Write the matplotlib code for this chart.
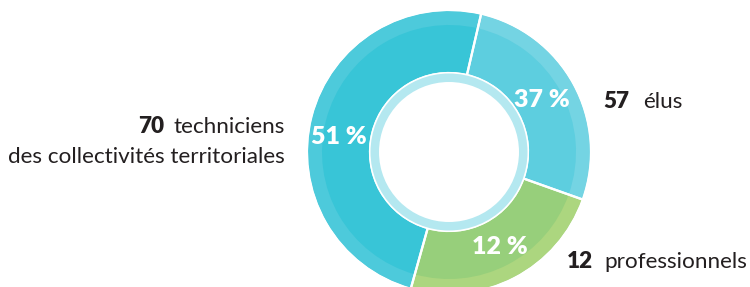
import matplotlib.pyplot as plt
from matplotlib.patches import Circle

# wedge order: élus, professionnels, techniciens (clockwise from top)
counts = [57, 12, 70]
names = ['élus', 'professionnels', 'techniciens', 'des collectivités territoriales']
pct_labels = ['37 %', '12 %', '51 %']
# share of the ring each wedge covers, as drawn in the picture
arc_shares = [26.8, 23.9, 49.3]

main_colors = ['#5dcedf', '#97cf7b', '#38c5d7']
band_colors = ['#74d4e3', '#acd67f', '#4dcadb']
ink = '#231f20'

fig = plt.figure(figsize=(7.5, 2.87), dpi=100)
ax = fig.add_axes([0, 0, 1, 1])

cx, cy = 449, 135
R = 141
start = 90 - 13.1

ax.pie(arc_shares, radius=R, center=(cx, cy), startangle=start, counterclock=False,
       colors=main_colors, wedgeprops=dict(width=61, edgecolor='none'))
ax.pie(arc_shares, radius=R, center=(cx, cy), startangle=start, counterclock=False,
       colors=band_colors, wedgeprops=dict(width=14, edgecolor='none'))
ax.pie(arc_shares, radius=R + 1, center=(cx, cy), startangle=start, counterclock=False,
       colors=['none'] * 3, wedgeprops=dict(width=63, edgecolor='white', linewidth=1.6, fill=False))

ax.add_patch(Circle((cx, cy), 78.5, facecolor='#b4e8f0', edgecolor='none'))
ax.add_patch(Circle((cx, cy), 70, facecolor='white', edgecolor='none'))

font = 'Lato'
pct_pos = [(542, 100), (500, 247), (339, 137)]
for (x, y), t in zip(pct_pos, pct_labels):
    ax.text(x, 287 - y, t, color='white', fontsize=18, fontweight='heavy', family=font,
            ha='center', va='center')

fs = 16.2
# outside labels
ax.text(603, 287 - 108, str(counts[0]), fontsize=fs, fontweight='heavy', family=font,
        color=ink, ha='left', va='baseline')
ax.text(643, 287 - 108, names[0], fontsize=fs, family=font, color=ink,
        ha='left', va='baseline')
ax.text(567, 287 - 268, str(counts[1]), fontsize=fs, fontweight='heavy', family=font,
        color=ink, ha='left', va='baseline')
ax.text(604, 287 - 268, names[1], fontsize=fs, family=font, color=ink,
        ha='left', va='baseline')
ax.text(285, 287 - 133, names[2], fontsize=fs, family=font, color=ink,
        ha='right', va='baseline')
ax.text(164, 287 - 133, str(counts[2]), fontsize=fs, fontweight='heavy', family=font,
        color=ink, ha='right', va='baseline')
ax.text(285, 287 - 163, names[3], fontsize=fs, family=font, color=ink,
        ha='right', va='baseline')

ax.set_xlim(0, 750)
ax.set_ylim(0, 287)
ax.set_aspect('equal')
ax.axis('off')
fig.savefig('out.png', dpi=100)
